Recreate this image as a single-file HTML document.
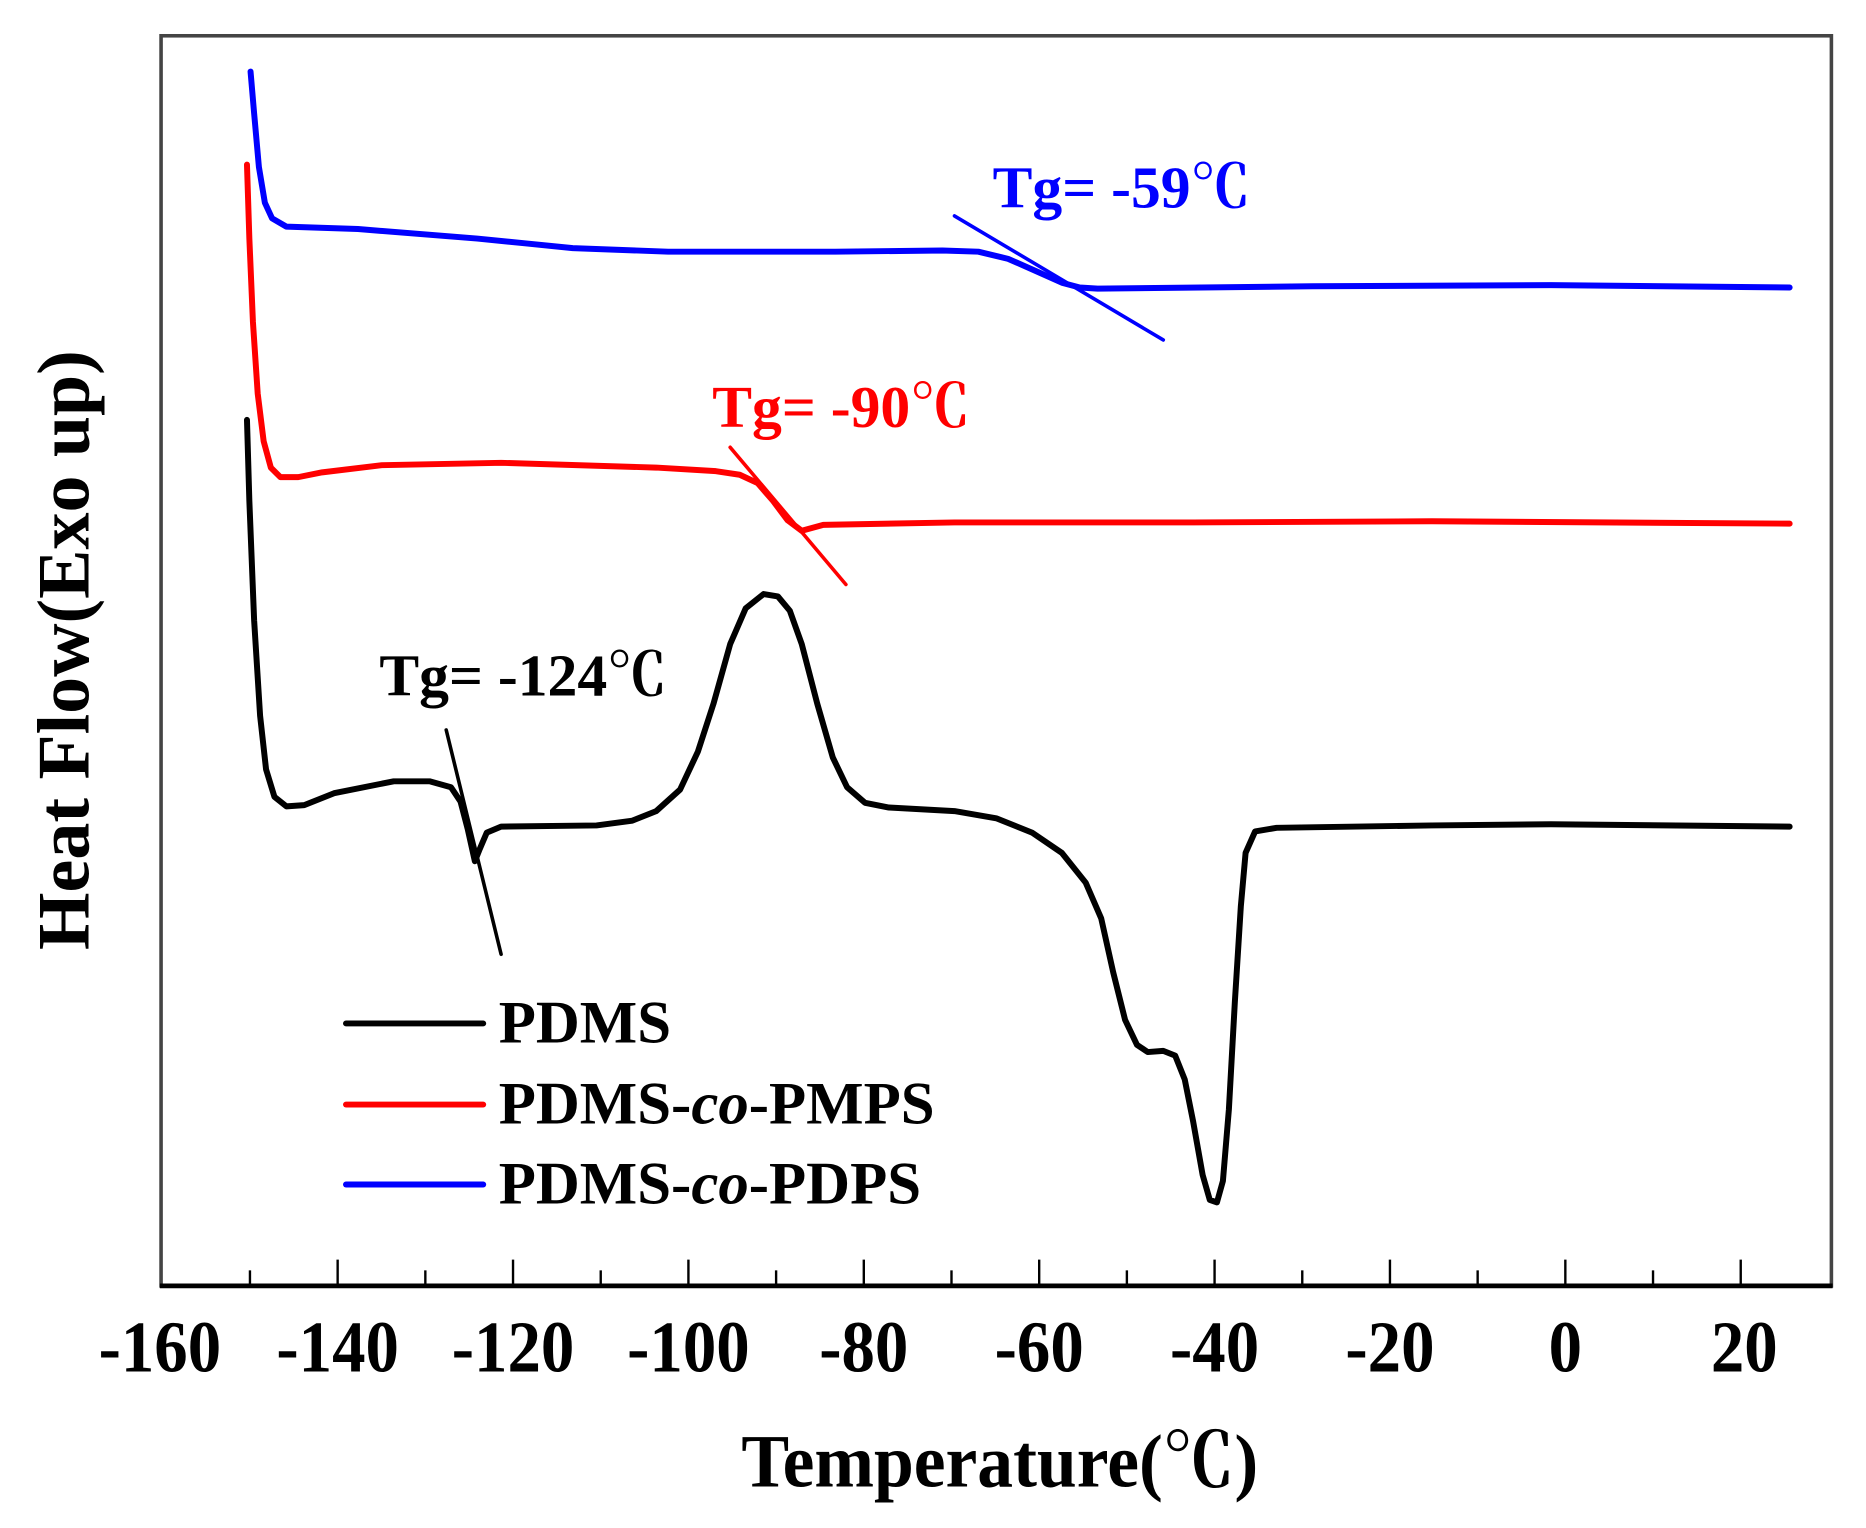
<!DOCTYPE html>
<html><head><meta charset="utf-8"><style>
html,body{margin:0;padding:0;background:#fff;}
svg{display:block;}
text{font-family:"Liberation Serif","Noto Serif CJK SC",serif;font-weight:bold;}
</style></head><body>
<svg width="1866" height="1528" viewBox="0 0 1564 1281" preserveAspectRatio="none" xmlns="http://www.w3.org/2000/svg">
<rect x="0" y="0" width="1564" height="1281" fill="#fff"/>
<rect x="135" y="30" width="1400" height="1048" fill="none" stroke="#444" stroke-width="3"/>
<line x1="134" y1="1078" x2="1536" y2="1078" stroke="#000" stroke-width="4"/>
<g stroke="#000" stroke-width="2">
<line x1="209.5" y1="1078" x2="209.5" y2="1065"/>
<line x1="283" y1="1078" x2="283" y2="1056"/>
<line x1="356.5" y1="1078" x2="356.5" y2="1065"/>
<line x1="430" y1="1078" x2="430" y2="1056"/>
<line x1="503.5" y1="1078" x2="503.5" y2="1065"/>
<line x1="577" y1="1078" x2="577" y2="1056"/>
<line x1="650.5" y1="1078" x2="650.5" y2="1065"/>
<line x1="724" y1="1078" x2="724" y2="1056"/>
<line x1="797.5" y1="1078" x2="797.5" y2="1065"/>
<line x1="871" y1="1078" x2="871" y2="1056"/>
<line x1="944.5" y1="1078" x2="944.5" y2="1065"/>
<line x1="1018" y1="1078" x2="1018" y2="1056"/>
<line x1="1091.5" y1="1078" x2="1091.5" y2="1065"/>
<line x1="1165" y1="1078" x2="1165" y2="1056"/>
<line x1="1238.5" y1="1078" x2="1238.5" y2="1065"/>
<line x1="1312" y1="1078" x2="1312" y2="1056"/>
<line x1="1385.5" y1="1078" x2="1385.5" y2="1065"/>
<line x1="1459" y1="1078" x2="1459" y2="1056"/>
</g>
<g font-size="56" text-anchor="middle" fill="#000">
<text transform="translate(134,1150) scale(1,1.1)">-160</text>
<text transform="translate(283,1150) scale(1,1.1)">-140</text>
<text transform="translate(430,1150) scale(1,1.1)">-120</text>
<text transform="translate(577,1150) scale(1,1.1)">-100</text>
<text transform="translate(724,1150) scale(1,1.1)">-80</text>
<text transform="translate(871,1150) scale(1,1.1)">-60</text>
<text transform="translate(1018,1150) scale(1,1.1)">-40</text>
<text transform="translate(1165,1150) scale(1,1.1)">-20</text>
<text transform="translate(1312,1150) scale(1,1.1)">0</text>
<text transform="translate(1462,1150) scale(1,1.1)">20</text>
</g>
<text transform="translate(838,1246) scale(1,1.05)" font-size="60" text-anchor="middle">Temperature(℃)</text>
<text transform="translate(74,545) rotate(-90)" font-size="62" text-anchor="middle">Heat Flow(Exo up)</text>

<g fill="none" stroke-width="5" stroke-linejoin="round" stroke-linecap="round">
<polyline stroke="#0000ff" points="210,60 213,95 217,140 222,170 228,183 240,190 300,192 400,200 440,204 480,208 560,211 700,211 790,210 820,211 845,217 870,228 890,237 905,241 920,242 1100,240 1300,239 1500,241"/>
<line stroke="#0000ff" stroke-width="3" x1="800" y1="181" x2="975" y2="285"/>
<polyline stroke="#ff0000" points="207,138 209,200 212,270 216,330 221,370 227,392 235,400 250,400 270,396 320,390 420,388 550,392 600,395 620,398 635,405 648,420 660,436 672,445 690,440 800,438 1000,438 1200,437 1500,439"/>
<line stroke="#ff0000" stroke-width="3" x1="612" y1="375" x2="709" y2="490"/>
<polyline stroke="#000" points="207,352 209,420 213,520 218,600 223,645 230,668 240,676 255,675 280,665 330,655 360,655 378,660 386,672 392,695 398,722 402,712 408,698 420,693 500,692 530,688 550,680 570,662 585,630 598,590 612,540 625,510 640,498 652,500 662,512 672,540 685,590 698,635 710,660 725,673 745,677 800,680 835,686 865,698 890,715 910,740 923,770 933,815 943,855 953,876 962,882 975,881 985,885 993,905 1000,940 1008,985 1014,1006 1020,1008 1025,990 1030,930 1035,840 1040,760 1044,715 1052,697 1070,694 1200,692 1300,691 1500,693"/>
<line stroke="#000" stroke-width="3" x1="374" y1="612" x2="420" y2="800"/>
<line stroke="#000" x1="290" y1="858" x2="405" y2="858"/>
<line stroke="#ff0000" x1="290" y1="926" x2="405" y2="926"/>
<line stroke="#0000ff" x1="290" y1="993" x2="405" y2="993"/>
</g>
<text x="832" y="174" font-size="50" fill="#0000ff">Tg= -59℃</text>
<text x="597" y="358" font-size="50" fill="#ff0000">Tg= -90℃</text>
<text x="318" y="583" font-size="50" fill="#000">Tg= -124℃</text>
<text x="418" y="874" font-size="51" fill="#000">PDMS</text>
<text x="418" y="942" font-size="51" fill="#000">PDMS-<tspan font-style="italic">co</tspan>-PMPS</text>
<text x="418" y="1009" font-size="51" fill="#000">PDMS-<tspan font-style="italic">co</tspan>-PDPS</text>
</svg>
</body></html>
